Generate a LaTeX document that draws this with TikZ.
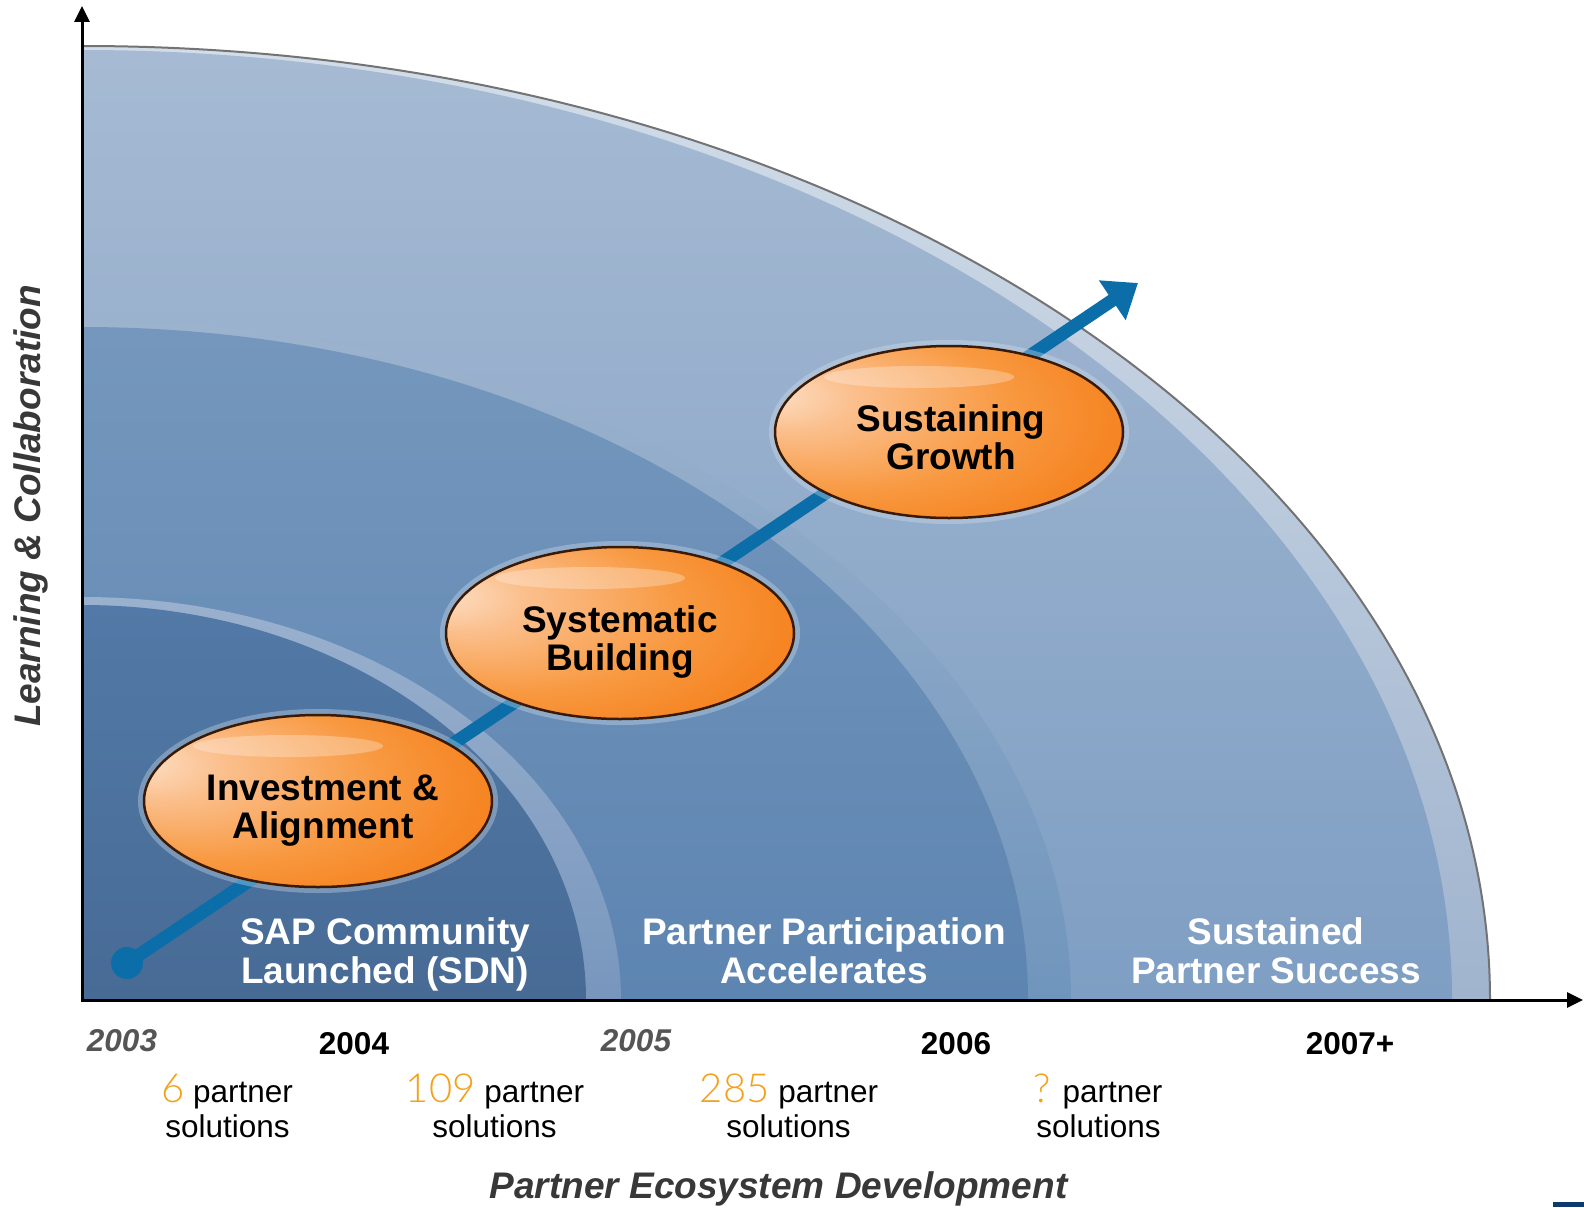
\documentclass[tikz,border=0pt]{standalone}
\usepackage{fontspec}
\setmainfont{Liberation Sans}
\IfFontExistsTF{Lato Light}{\newfontfamily\numfont{Lato Light}}{\newfontfamily\numfont{Liberation Sans}}
\usetikzlibrary{shapes.geometric,arrows.meta}
\definecolor{oBandT}{HTML}{D2DDE9}
\definecolor{oBandB}{HTML}{A0B4CE}
\definecolor{oMainT}{HTML}{A6BAD3}
\definecolor{oMainB}{HTML}{7E9EC3}
\definecolor{mBandT}{HTML}{9CB3CE}
\definecolor{mBandB}{HTML}{7095BC}
\definecolor{mMainT}{HTML}{7597BD}
\definecolor{mMainB}{HTML}{5D85B1}
\definecolor{iBandT}{HTML}{9AB1CE}
\definecolor{iBandB}{HTML}{7896BD}
\definecolor{iMainT}{HTML}{5279A7}
\definecolor{iMainB}{HTML}{476B95}
\definecolor{rimgray}{HTML}{737373}
\definecolor{lineblue}{HTML}{0B6EA8}
\definecolor{orbA}{HTML}{FDE4CE}
\definecolor{orbB}{HTML}{FBC08E}
\definecolor{orbC}{HTML}{F8983F}
\definecolor{orbD}{HTML}{F47810}
\definecolor{orbE}{HTML}{DD620C}
\definecolor{orbrim}{HTML}{3A1A05}
\definecolor{orbglow}{HTML}{D5E2EE}
\definecolor{numorange}{HTML}{F4A11A}
\definecolor{yeargray}{HTML}{555555}
\definecolor{labelgray}{HTML}{383838}
\definecolor{navy}{HTML}{0E3A6C}
\pgfdeclareradialshading{orbshade}{\pgfpoint{-28bp}{12bp}}{color(0bp)=(orbA); color(9bp)=(orbB); color(24bp)=(orbC); color(40bp)=(orbD); color(50bp)=(orbE)}
\newcommand\twoline[2]{\begin{tabular}[t]{@{}c@{}}#1\\#2\end{tabular}}
\begin{document}
\begin{tikzpicture}[x=1pt,y=-1pt,
  outline/.style={draw=rimgray, line width=2pt},
  axisarrow/.style={line width=3pt, -{Triangle[length=16pt,width=15pt]}},
  growth/.style={draw=lineblue, line width=13pt, -{Triangle[length=31pt,width=46pt]}},
  dotnode/.style={circle, fill=lineblue, minimum size=32pt, inner sep=0pt},
  orb/.style={ellipse, minimum width=348pt, minimum height=172pt, inner sep=0pt, draw=orbrim, line width=2.5pt, shade, shading=orbshade,
     preaction={draw=orbglow, line width=12pt, draw opacity=0.35},
     path picture={\fill[white, opacity=0.28] ([xshift=-30pt,yshift=55pt]path picture bounding box.center) ellipse [x radius=95pt, y radius=11pt];}},
  orbtext/.style={anchor=base, inner sep=0pt, font=\fontsize{37}{38.5}\selectfont\bfseries},
  ringtext/.style={anchor=base, inner sep=0pt, text=white, font=\fontsize{37}{38.5}\selectfont\bfseries},
  yearbold/.style={anchor=base, inner sep=0pt, font=\fontsize{31.5}{36}\selectfont\bfseries},
  yearital/.style={anchor=base, inner sep=0pt, text=yeargray, font=\fontsize{31.5}{36}\selectfont\bfseries\itshape},
  soltext/.style={anchor=base, inner sep=0pt, font=\fontsize{31.5}{36}\selectfont},
  numtext/.style={},
  axislabel/.style={anchor=base, inner sep=0pt, text=labelgray, font=\fontsize{37}{40}\selectfont\bfseries\itshape},
]
\useasboundingbox (0,0) rectangle (1584,1207);
\fill[white] (0,0) rectangle (1584,1207);
% outer ring
\shade[top color=oBandT, bottom color=oBandB] (82,1000) -- (82,46) arc[start angle=-90, end angle=0, x radius=1408, y radius=954] -- cycle;
\shade[top color=oMainT, bottom color=oMainB] (82,1000) -- (82,50) arc[start angle=-90, end angle=0, x radius=1370, y radius=950] -- cycle;
\draw[outline] (82,46) arc[start angle=-90, end angle=0, x radius=1408, y radius=954];
% middle ring
\shade[top color=mBandT, bottom color=mBandB] (82,1000) -- (82,321) arc[start angle=-90, end angle=0, x radius=989, y radius=679] -- cycle;
\shade[top color=mMainT, bottom color=mMainB] (82,1000) -- (82,327) arc[start angle=-90, end angle=0, x radius=946, y radius=673] -- cycle;
% inner ring
\shade[top color=iBandT, bottom color=iBandB] (82,1000) -- (82,597) arc[start angle=-90, end angle=0, x radius=539, y radius=403] -- cycle;
\shade[top color=iMainT, bottom color=iMainB] (82,1000) -- (82,605) arc[start angle=-90, end angle=0, x radius=504, y radius=395] -- cycle;
% axes
\coordinate (O) at (82,1000);
\coordinate (ytip) at (82,6);
\coordinate (xtip) at (1583,1000);
\draw[axisarrow, line cap=rect] (O) -- (ytip);
\draw[axisarrow, line cap=rect] (O) -- (xtip);
% growth line
\node[dotnode] (start) at (127,963) {};
\coordinate (tip) at (1138,283);
\draw[growth] (start.center) -- (tip);
% orbs
\node[orb] (orb1) at (318,801) {};
\node[orb] (orb2) at (620,633) {};
\node[orb] (orb3) at (949,432) {};
\node[orbtext] (t1) at ([xshift=5pt,yshift=1pt]orb1.center) {\twoline{Investment \&}{Alignment}};
\node[orbtext] (t2) at ([xshift=0pt,yshift=1pt]orb2.center) {\twoline{Systematic}{Building}};
\node[orbtext] (t3) at ([xshift=2pt,yshift=1pt]orb3.center) {\twoline{Sustaining}{Growth}};
% ring labels
\node[ringtext] (r1) at (385,944.5) {\twoline{SAP Community}{Launched (SDN)}};
\node[ringtext] (r2) at (824,944.5) {\twoline{Partner Participation}{Accelerates}};
\node[ringtext] (r3) at (1276,944.5) {\twoline{Sustained}{Partner Success}};
% years
\node[yearital] (y3) at (122,1051) {2003};
\node[yearbold] (y4) at (354,1054) {2004};
\node[yearital] (y5) at (636,1051) {2005};
\node[yearbold] (y6) at (956,1054) {2006};
\node[yearbold] (y7) at (1350,1054) {2007+};
% partner solutions
\node[soltext] (p1) at (227,1102) {{\numfont\fontsize{40}{40}\selectfont\color{numorange}6} partner};
\node[soltext] (s1) at (227.5,1137) {solutions};
\node[soltext] (p2) at (495,1102) {{\numfont\fontsize{40}{40}\selectfont\color{numorange}109} partner};
\node[soltext] (s2) at (494.5,1137) {solutions};
\node[soltext] (p3) at (789,1102) {{\numfont\fontsize{40}{40}\selectfont\color{numorange}285} partner};
\node[soltext] (s3) at (788.5,1137) {solutions};
\node[soltext] (p4) at (1098,1102) {{\numfont\fontsize{40}{40}\selectfont\color{numorange}?} partner};
\node[soltext] (s4) at (1098.5,1137) {solutions};
% axis labels
\node[axislabel, rotate=90] (ylab) at (40.5,506) {Learning \& Collaboration};
\node[axislabel] (xlab) at (778.5,1198) {Partner Ecosystem Development};
% corner mark
\fill[navy] (1553,1202) rectangle (1584,1207);
\end{tikzpicture}
\end{document}
